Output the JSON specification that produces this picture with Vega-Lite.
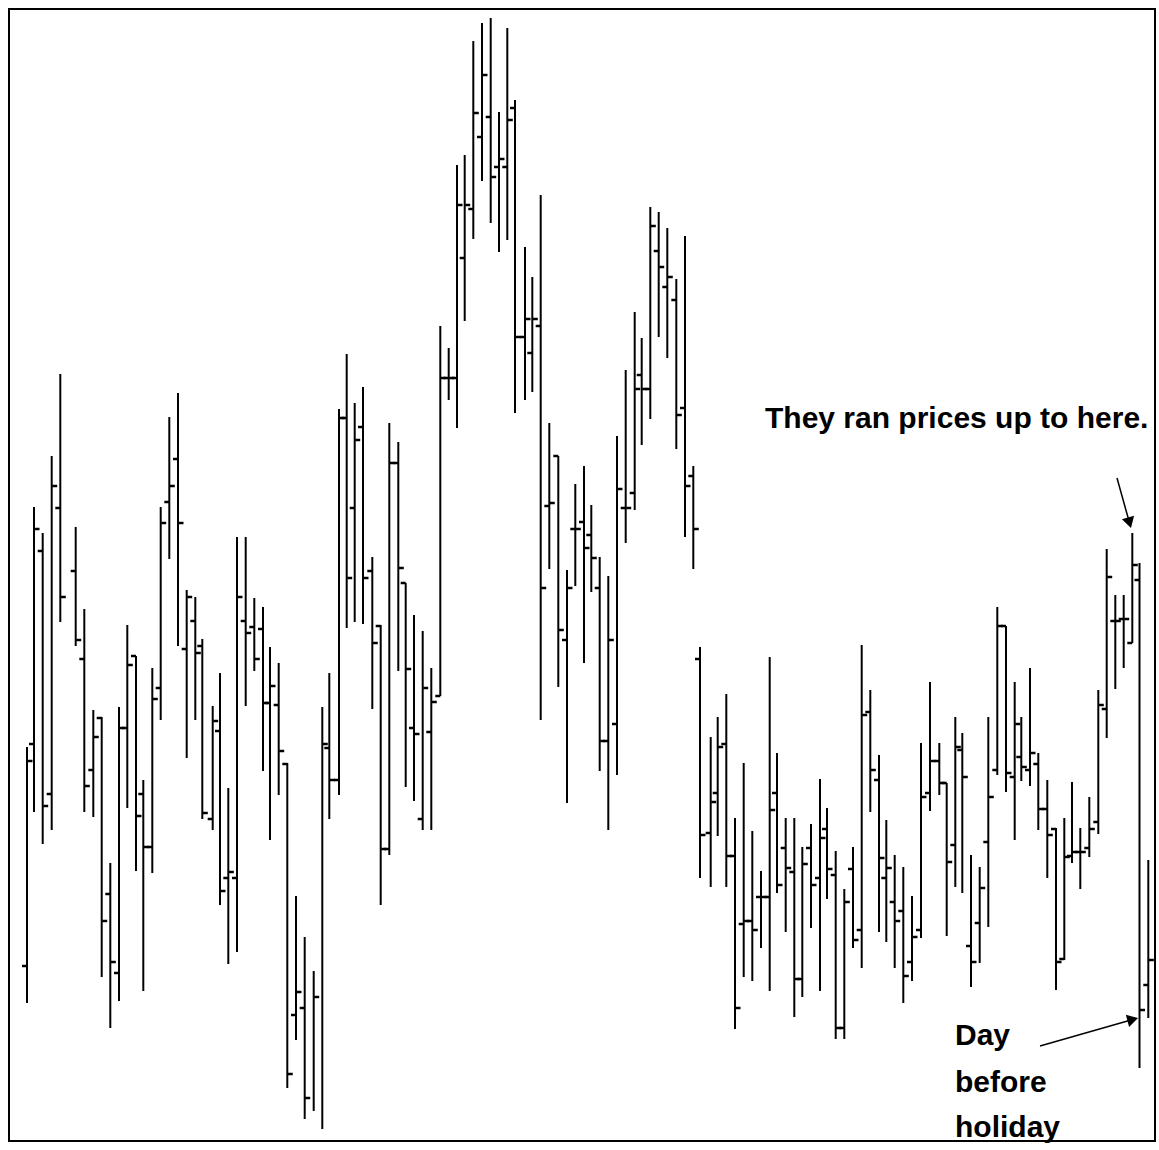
{
  "$schema": "https://vega.github.io/schema/vega-lite/v6.json",
  "autosize": {"type": "none"},
  "width": 1146,
  "height": 1132,
  "padding": {"left": 9, "top": 9, "right": 4, "bottom": 9},
  "background": "white",
  "config": {"view": {"stroke": "#000000", "strokeWidth": 2}},
  "datasets": {
    "bars": [
      {"t":27,"hi":403,"lo":147,"op":184,"cl":389},
      {"t":34,"hi":643,"lo":338,"op":406,"cl":621},
      {"t":42.7,"hi":617,"lo":306,"op":599,"cl":344},
      {"t":51.7,"hi":694,"lo":320,"op":356,"cl":664},
      {"t":60.3,"hi":776,"lo":528,"op":642,"cl":553},
      {"t":75.7,"hi":623,"lo":504,"op":579,"cl":510},
      {"t":84.3,"hi":541,"lo":338,"op":491,"cl":364},
      {"t":93.3,"hi":440,"lo":333,"op":380,"cl":413},
      {"t":101.7,"hi":433,"lo":173,"op":432,"cl":229},
      {"t":110.3,"hi":287,"lo":122,"op":256,"cl":188},
      {"t":119,"hi":443,"lo":149,"op":177,"cl":422},
      {"t":127.3,"hi":525,"lo":342,"op":422,"cl":485},
      {"t":136,"hi":494,"lo":279,"op":494,"cl":334},
      {"t":143.3,"hi":370,"lo":159,"op":356,"cl":303},
      {"t":152.3,"hi":482,"lo":277,"op":303,"cl":451},
      {"t":160.7,"hi":643,"lo":430,"op":462,"cl":627},
      {"t":169.3,"hi":733,"lo":591,"op":648,"cl":664},
      {"t":178,"hi":757,"lo":504,"op":691,"cl":627},
      {"t":186.7,"hi":560,"lo":392,"op":501,"cl":553},
      {"t":195.3,"hi":553,"lo":430,"op":529,"cl":497},
      {"t":202.3,"hi":511,"lo":331,"op":504,"cl":337},
      {"t":212.7,"hi":444,"lo":320,"op":331,"cl":429},
      {"t":220,"hi":477,"lo":245,"op":419,"cl":259},
      {"t":228.3,"hi":362,"lo":186,"op":272,"cl":278},
      {"t":237,"hi":613,"lo":198,"op":272,"cl":553},
      {"t":245.7,"hi":613,"lo":444,"op":529,"cl":517},
      {"t":254.3,"hi":552,"lo":479,"op":523,"cl":491},
      {"t":263,"hi":543,"lo":379,"op":521,"cl":447},
      {"t":270,"hi":503,"lo":310,"op":447,"cl":464},
      {"t":278.7,"hi":487,"lo":355,"op":445,"cl":399},
      {"t":287.3,"hi":387,"lo":62,"op":386,"cl":76},
      {"t":296,"hi":254,"lo":110,"op":135,"cl":158},
      {"t":304.7,"hi":213,"lo":31,"op":142,"cl":52},
      {"t":313.7,"hi":179,"lo":39,"op":null,"cl":153},
      {"t":322.3,"hi":443,"lo":21,"op":null,"cl":406},
      {"t":329.3,"hi":477,"lo":331,"op":402,"cl":370},
      {"t":339,"hi":741,"lo":355,"op":370,"cl":732},
      {"t":346.7,"hi":796,"lo":522,"op":732,"cl":572},
      {"t":354.7,"hi":747,"lo":528,"op":642,"cl":710},
      {"t":363,"hi":763,"lo":526,"op":723,"cl":572},
      {"t":372.3,"hi":593,"lo":441,"op":579,"cl":507},
      {"t":380.7,"hi":525,"lo":245,"op":524,"cl":301},
      {"t":389.3,"hi":727,"lo":295,"op":301,"cl":687},
      {"t":398.3,"hi":708,"lo":479,"op":687,"cl":582},
      {"t":405.7,"hi":567,"lo":363,"op":567,"cl":481},
      {"t":414,"hi":535,"lo":349,"op":422,"cl":416},
      {"t":422.7,"hi":519,"lo":320,"op":331,"cl":462},
      {"t":431.3,"hi":482,"lo":320,"op":418,"cl":448},
      {"t":440.3,"hi":824,"lo":454,"op":454,"cl":772},
      {"t":448.7,"hi":802,"lo":750,"op":772,"cl":772},
      {"t":457,"hi":985,"lo":722,"op":772,"cl":945},
      {"t":464.7,"hi":995,"lo":829,"op":892,"cl":945},
      {"t":473.3,"hi":1109,"lo":911,"op":941,"cl":1037},
      {"t":482,"hi":1127,"lo":969,"op":1013,"cl":1075},
      {"t":490.7,"hi":1132,"lo":927,"op":1033,"cl":973},
      {"t":499,"hi":1038,"lo":898,"op":983,"cl":991},
      {"t":507.3,"hi":1122,"lo":910,"op":983,"cl":1030},
      {"t":515,"hi":1050,"lo":737,"op":1042,"cl":813},
      {"t":525,"hi":903,"lo":750,"op":813,"cl":831},
      {"t":532.3,"hi":873,"lo":758,"op":797,"cl":831},
      {"t":540.7,"hi":955,"lo":430,"op":824,"cl":562},
      {"t":549.3,"hi":727,"lo":581,"op":644,"cl":647},
      {"t":558.3,"hi":694,"lo":463,"op":694,"cl":520},
      {"t":567,"hi":580,"lo":347,"op":510,"cl":562},
      {"t":575.3,"hi":666,"lo":564,"op":621,"cl":621},
      {"t":584,"hi":684,"lo":487,"op":628,"cl":602},
      {"t":591.3,"hi":645,"lo":558,"op":615,"cl":592},
      {"t":599.7,"hi":593,"lo":379,"op":562,"cl":409},
      {"t":608.3,"hi":574,"lo":320,"op":409,"cl":510},
      {"t":617,"hi":714,"lo":375,"op":426,"cl":661},
      {"t":625.7,"hi":780,"lo":607,"op":642,"cl":642},
      {"t":634.7,"hi":838,"lo":640,"op":657,"cl":761},
      {"t":641.7,"hi":812,"lo":705,"op":775,"cl":761},
      {"t":650.3,"hi":943,"lo":731,"op":761,"cl":924},
      {"t":658.7,"hi":938,"lo":813,"op":899,"cl":883},
      {"t":667.3,"hi":922,"lo":792,"op":863,"cl":873},
      {"t":676.3,"hi":871,"lo":701,"op":850,"cl":735},
      {"t":685,"hi":914,"lo":613,"op":742,"cl":664},
      {"t":693.3,"hi":684,"lo":581,"op":674,"cl":621},
      {"t":700,"hi":503,"lo":272,"op":491,"cl":315},
      {"t":710.7,"hi":413,"lo":263,"op":317,"cl":348},
      {"t":717.7,"hi":433,"lo":314,"op":357,"cl":403},
      {"t":726.3,"hi":456,"lo":263,"op":406,"cl":294},
      {"t":735,"hi":332,"lo":121,"op":294,"cl":142},
      {"t":743.7,"hi":387,"lo":173,"op":226,"cl":229},
      {"t":752.3,"hi":319,"lo":169,"op":229,"cl":220},
      {"t":761,"hi":279,"lo":202,"op":253,"cl":253},
      {"t":769.7,"hi":493,"lo":159,"op":253,"cl":340},
      {"t":777,"hi":397,"lo":257,"op":357,"cl":265},
      {"t":785.7,"hi":332,"lo":218,"op":302,"cl":282},
      {"t":794.3,"hi":332,"lo":133,"op":278,"cl":171},
      {"t":802.3,"hi":303,"lo":153,"op":171,"cl":286},
      {"t":811,"hi":326,"lo":222,"op":302,"cl":265},
      {"t":820,"hi":371,"lo":159,"op":272,"cl":312},
      {"t":827,"hi":342,"lo":251,"op":321,"cl":281},
      {"t":835.7,"hi":299,"lo":111,"op":275,"cl":122},
      {"t":844.3,"hi":261,"lo":111,"op":122,"cl":248},
      {"t":853,"hi":303,"lo":202,"op":281,"cl":210},
      {"t":861.7,"hi":505,"lo":182,"op":220,"cl":435},
      {"t":870.3,"hi":460,"lo":338,"op":438,"cl":380},
      {"t":879,"hi":395,"lo":218,"op":370,"cl":292},
      {"t":886.3,"hi":330,"lo":208,"op":272,"cl":282},
      {"t":894.7,"hi":295,"lo":182,"op":248,"cl":229},
      {"t":903.3,"hi":283,"lo":147,"op":239,"cl":174},
      {"t":912,"hi":254,"lo":169,"op":188,"cl":213},
      {"t":921,"hi":407,"lo":212,"op":220,"cl":353},
      {"t":930,"hi":468,"lo":339,"op":357,"cl":389},
      {"t":939.3,"hi":407,"lo":355,"op":389,"cl":367},
      {"t":946.7,"hi":367,"lo":214,"op":367,"cl":288},
      {"t":955.3,"hi":433,"lo":263,"op":305,"cl":403},
      {"t":962.3,"hi":417,"lo":257,"op":400,"cl":373},
      {"t":971,"hi":295,"lo":163,"op":204,"cl":188},
      {"t":979.7,"hi":283,"lo":187,"op":227,"cl":262},
      {"t":988.3,"hi":433,"lo":223,"op":308,"cl":353},
      {"t":997.3,"hi":543,"lo":375,"op":380,"cl":524},
      {"t":1006,"hi":524,"lo":358,"op":524,"cl":377},
      {"t":1014.7,"hi":468,"lo":310,"op":373,"cl":426},
      {"t":1021.3,"hi":433,"lo":369,"op":393,"cl":383},
      {"t":1030,"hi":482,"lo":364,"op":380,"cl":397},
      {"t":1038.3,"hi":397,"lo":320,"op":386,"cl":341},
      {"t":1047.3,"hi":370,"lo":272,"op":341,"cl":315},
      {"t":1056,"hi":322,"lo":160,"op":321,"cl":188},
      {"t":1064.3,"hi":332,"lo":190,"op":191,"cl":293},
      {"t":1072,"hi":368,"lo":287,"op":294,"cl":298},
      {"t":1080.3,"hi":322,"lo":261,"op":298,"cl":298},
      {"t":1089.3,"hi":353,"lo":293,"op":302,"cl":321},
      {"t":1098.3,"hi":460,"lo":316,"op":328,"cl":445},
      {"t":1106.7,"hi":601,"lo":412,"op":441,"cl":573},
      {"t":1115.3,"hi":555,"lo":461,"op":529,"cl":529},
      {"t":1123.7,"hi":555,"lo":482,"op":531,"cl":531},
      {"t":1132.3,"hi":617,"lo":507,"op":507,"cl":585},
      {"t":1139.5,"hi":587,"lo":82,"op":570,"cl":140},
      {"t":1148.3,"hi":290,"lo":132,"op":165,"cl":190}
    ],
    "notes": [
      {"t":765,"p":722,"label":"They ran prices up to here."},
      {"t":955,"p":105,"label":"Day"},
      {"t":955,"p":58,"label":"before"},
      {"t":955,"p":13,"label":"holiday"}
    ],
    "arrows": [
      {"t":1117,"p":672,"t2":1129,"p2":629,"heading":164},
      {"t":1040,"p":104,"t2":1131,"p2":130,"heading":75}
    ]
  },
  "encoding": {
    "x": {"field": "t", "type": "quantitative", "scale": {"domain": [9, 1155], "nice": false, "zero": false}, "axis": null}
  },
  "layer": [
    {
      "data": {"name": "bars"},
      "mark": {"type": "rule", "color": "#000000", "strokeWidth": 2},
      "encoding": {
        "y": {"field": "hi", "type": "quantitative", "scale": {"domain": [9, 1141], "nice": false, "zero": false}, "axis": null},
        "y2": {"field": "lo"}
      }
    },
    {
      "data": {"name": "bars"},
      "mark": {"type": "tick", "orient": "horizontal", "color": "#000000", "size": 5, "thickness": 2.5, "xOffset": -2.5, "opacity": 1},
      "encoding": {
        "y": {"field": "op", "type": "quantitative"}
      }
    },
    {
      "data": {"name": "bars"},
      "mark": {"type": "tick", "orient": "horizontal", "color": "#000000", "size": 5, "thickness": 2.5, "xOffset": 3, "opacity": 1},
      "encoding": {
        "y": {"field": "cl", "type": "quantitative"}
      }
    },
    {
      "data": {"name": "arrows"},
      "mark": {"type": "rule", "color": "#000000", "strokeWidth": 1.5},
      "encoding": {
        "y": {"field": "p", "type": "quantitative"},
        "x2": {"field": "t2"},
        "y2": {"field": "p2"}
      }
    },
    {
      "data": {"name": "arrows"},
      "mark": {"type": "point", "shape": "triangle", "filled": true, "color": "#000000", "size": 160, "opacity": 1},
      "encoding": {
        "x": {"field": "t2", "type": "quantitative"},
        "y": {"field": "p2", "type": "quantitative"},
        "angle": {"field": "heading", "type": "quantitative", "scale": null}
      }
    },
    {
      "data": {"name": "notes"},
      "mark": {"type": "text", "align": "left", "baseline": "alphabetic", "font": "Liberation Sans", "fontSize": 30, "fontWeight": "bold", "color": "#000000"},
      "encoding": {
        "y": {"field": "p", "type": "quantitative"},
        "text": {"field": "label"}
      }
    }
  ]
}
